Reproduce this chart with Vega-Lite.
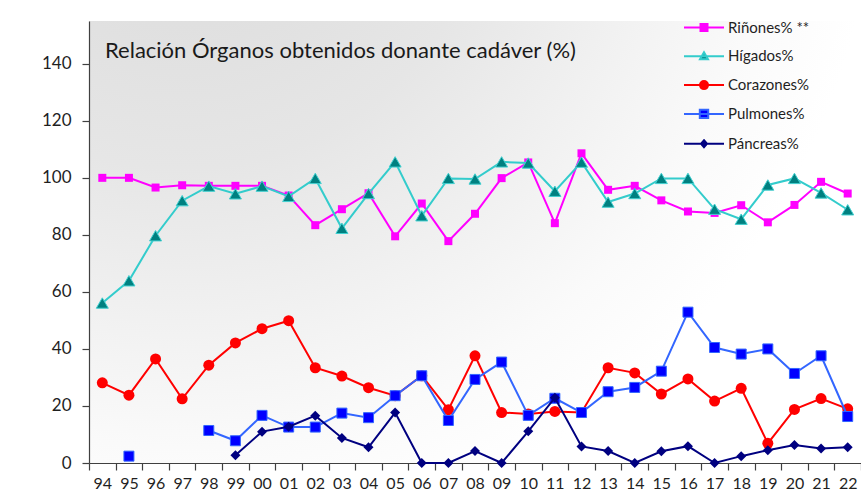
{
  "$schema": "https://vega.github.io/schema/vega-lite/v6.json",
  "width": 772,
  "height": 442,
  "autosize": {"type": "none"},
  "padding": {"left": 89, "top": 21, "right": 0, "bottom": 33},
  "background": "#ffffff",
  "view": {
    "stroke": null,
    "fill": {
      "gradient": "radial",
      "x1": 0.12, "y1": 0, "r1": 0,
      "x2": 0.12, "y2": 0, "r2": 0.9,
      "stops": [
        {"offset": 0, "color": "#d9d9d9"},
        {"offset": 0.45, "color": "#e6e6e6"},
        {"offset": 0.85, "color": "#fafafa"},
        {"offset": 1, "color": "#ffffff"}
      ]
    }
  },
  "config": {
    "font": "Lato",
    "axis": {"labelColor": "#1f1f1f", "domainColor": "#404040", "tickColor": "#404040", "domainWidth": 1.2, "tickWidth": 1.2, "grid": false, "title": null},
    "legend": {"title": null, "orient": "none", "legendX": 604, "legendY": -4.5, "symbolSize": 400, "symbolStrokeWidth": 2, "symbolOpacity": 1, "labelOffset": 13, "labelFontSize": 15, "labelColor": "#1f1f1f", "rowPadding": 9.8, "labelFont": "Lato", "padding": 0}
  },
  "title": {
    "text": "Relación Órganos obtenidos donante cadáver (%)",
    "anchor": "start", "frame": "group", "orient": "top",
    "offset": 0, "dx": 16, "dy": 63, "baseline": "alphabetic",
    "fontSize": 22, "fontWeight": "normal", "color": "#1a1a1a", "font": "Lato"
  },
  "data": {
    "values": [
      {"anio": "94", "Riñones% **": 100, "Hígados%": 56.1, "Corazones%": 28.1, "Pulmones%": null, "Páncreas%": null},
      {"anio": "95", "Riñones% **": 100, "Hígados%": 63.9, "Corazones%": 23.8, "Pulmones%": 2.4, "Páncreas%": null},
      {"anio": "96", "Riñones% **": 96.6, "Hígados%": 79.7, "Corazones%": 36.5, "Pulmones%": null, "Páncreas%": null},
      {"anio": "97", "Riñones% **": 97.4, "Hígados%": 92.0, "Corazones%": 22.5, "Pulmones%": null, "Páncreas%": null},
      {"anio": "98", "Riñones% **": 97.2, "Hígados%": 97.1, "Corazones%": 34.3, "Pulmones%": 11.4, "Páncreas%": null},
      {"anio": "99", "Riñones% **": 97.2, "Hígados%": 94.4, "Corazones%": 42.1, "Pulmones%": 7.8, "Páncreas%": 2.7},
      {"anio": "00", "Riñones% **": 97.2, "Hígados%": 97.1, "Corazones%": 47.1, "Pulmones%": 16.7, "Páncreas%": 11.0},
      {"anio": "01", "Riñones% **": 93.8, "Hígados%": 93.5, "Corazones%": 49.9, "Pulmones%": 12.6, "Páncreas%": 12.7},
      {"anio": "02", "Riñones% **": 83.4, "Hígados%": 99.8, "Corazones%": 33.4, "Pulmones%": 12.6, "Páncreas%": 16.6},
      {"anio": "03", "Riñones% **": 89.0, "Hígados%": 82.3, "Corazones%": 30.5, "Pulmones%": 17.5, "Páncreas%": 8.8},
      {"anio": "04", "Riñones% **": 94.6, "Hígados%": 94.5, "Corazones%": 26.4, "Pulmones%": 15.9, "Páncreas%": 5.5},
      {"anio": "05", "Riñones% **": 79.5, "Hígados%": 105.6, "Corazones%": 23.6, "Pulmones%": 23.6, "Páncreas%": 17.7},
      {"anio": "06", "Riñones% **": 91.0, "Hígados%": 86.7, "Corazones%": 30.6, "Pulmones%": 30.6, "Páncreas%": 0},
      {"anio": "07", "Riñones% **": 77.8, "Hígados%": 99.8, "Corazones%": 18.7, "Pulmones%": 14.9, "Páncreas%": 0},
      {"anio": "08", "Riñones% **": 87.4, "Hígados%": 99.6, "Corazones%": 37.6, "Pulmones%": 29.3, "Páncreas%": 4.2},
      {"anio": "09", "Riñones% **": 99.9, "Hígados%": 105.6, "Corazones%": 17.7, "Pulmones%": 35.4, "Páncreas%": 0},
      {"anio": "10", "Riñones% **": 105.4, "Hígados%": 105.2, "Corazones%": 17.2, "Pulmones%": 16.7, "Páncreas%": 11.1},
      {"anio": "11", "Riñones% **": 84.1, "Hígados%": 95.3, "Corazones%": 18.1, "Pulmones%": 22.7, "Páncreas%": 22.9},
      {"anio": "12", "Riñones% **": 108.6, "Hígados%": 105.5, "Corazones%": 17.7, "Pulmones%": 17.7, "Páncreas%": 5.8},
      {"anio": "13", "Riñones% **": 95.8, "Hígados%": 91.5, "Corazones%": 33.4, "Pulmones%": 25.0, "Páncreas%": 4.2},
      {"anio": "14", "Riñones% **": 97.2, "Hígados%": 94.5, "Corazones%": 31.6, "Pulmones%": 26.5, "Páncreas%": 0},
      {"anio": "15", "Riñones% **": 92.1, "Hígados%": 99.8, "Corazones%": 24.2, "Pulmones%": 32.2, "Páncreas%": 4.1},
      {"anio": "16", "Riñones% **": 88.2, "Hígados%": 99.8, "Corazones%": 29.5, "Pulmones%": 52.9, "Páncreas%": 5.9},
      {"anio": "17", "Riñones% **": 87.7, "Hígados%": 89.0, "Corazones%": 21.7, "Pulmones%": 40.5, "Páncreas%": 0},
      {"anio": "18", "Riñones% **": 90.4, "Hígados%": 85.5, "Corazones%": 26.2, "Pulmones%": 38.2, "Páncreas%": 2.4},
      {"anio": "19", "Riñones% **": 84.4, "Hígados%": 97.5, "Corazones%": 6.9, "Pulmones%": 40.0, "Páncreas%": 4.5},
      {"anio": "20", "Riñones% **": 90.5, "Hígados%": 99.8, "Corazones%": 18.8, "Pulmones%": 31.4, "Páncreas%": 6.3},
      {"anio": "21", "Riñones% **": 98.6, "Hígados%": 94.7, "Corazones%": 22.6, "Pulmones%": 37.6, "Páncreas%": 5.1},
      {"anio": "22", "Riñones% **": 94.5, "Hígados%": 88.8, "Corazones%": 19.0, "Pulmones%": 16.3, "Páncreas%": 5.5}
    ]
  },
  "transform": [
    {"fold": ["Riñones% **", "Hígados%", "Corazones%", "Pulmones%", "Páncreas%"], "as": ["serie", "valor"]}
  ],
  "encoding": {
    "x": {
      "field": "anio", "type": "ordinal",
      "scale": {"type": "band", "paddingInner": 0, "paddingOuter": 0,
        "domain": ["94","95","96","97","98","99","00","01","02","03","04","05","06","07","08","09","10","11","12","13","14","15","16","17","18","19","20","21","22"]},
      "axis": {"tickBand": "extent", "tickSize": 7, "labelPadding": 5, "labelFontSize": 16, "labelAngle": 0}
    },
    "y": {
      "field": "valor", "type": "quantitative",
      "scale": {"domain": [0, 155], "nice": false},
      "axis": {"values": [0, 20, 40, 60, 80, 100, 120, 140], "tickSize": 7, "labelPadding": 11, "labelFontSize": 17}
    }
  },
  "layer": [
    {
      "transform": [{"filter": {"field": "serie", "equal": "Riñones% **"}}],
      "layer": [
        {"mark": {"type": "line", "stroke": "#ff00ff", "strokeWidth": 2, "invalid": "break-paths-filter-domains"}},
        {"mark": {"type": "point", "shape": "square", "filled": true, "size": 64, "fill": "#ff00ff", "strokeWidth": 0, "opacity": 1}}
      ]
    },
    {
      "transform": [{"filter": {"field": "serie", "equal": "Hígados%"}}],
      "layer": [
        {"mark": {"type": "line", "stroke": "#33cccc", "strokeWidth": 2, "invalid": "break-paths-filter-domains"}},
        {"mark": {"type": "point", "shape": "triangle-up", "filled": true, "size": 144, "fill": "#008080", "stroke": "#40d0d0", "strokeWidth": 1, "opacity": 1}}
      ]
    },
    {
      "transform": [{"filter": {"field": "serie", "equal": "Corazones%"}}],
      "layer": [
        {"mark": {"type": "line", "stroke": "#ff0000", "strokeWidth": 2, "invalid": "break-paths-filter-domains"}},
        {"mark": {"type": "point", "shape": "circle", "filled": true, "size": 121, "fill": "#ff0000", "strokeWidth": 0, "opacity": 1}}
      ]
    },
    {
      "transform": [{"filter": {"field": "serie", "equal": "Pulmones%"}}],
      "layer": [
        {"mark": {"type": "line", "stroke": "#3366ff", "strokeWidth": 2, "invalid": "break-paths-filter-domains"}},
        {"mark": {"type": "point", "shape": "square", "filled": true, "size": 100, "fill": "#0000ff", "stroke": "#3366ff", "strokeWidth": 1, "opacity": 1}}
      ]
    },
    {
      "transform": [{"filter": {"field": "serie", "equal": "Páncreas%"}}],
      "layer": [
        {"mark": {"type": "line", "stroke": "#000080", "strokeWidth": 2, "invalid": "break-paths-filter-domains"}},
        {"mark": {"type": "point", "shape": "diamond", "filled": true, "size": 100, "fill": "#000080", "strokeWidth": 0, "opacity": 1}}
      ]
    },
    {
      "transform": [{"filter": {"field": "serie", "equal": "ninguna"}}],
      "mark": {"type": "point", "filled": true, "opacity": 1},
      "encoding": {
        "stroke": {"field": "serie", "type": "nominal",
          "scale": {"domain": ["Riñones% **", "Hígados%", "Corazones%", "Pulmones%", "Páncreas%"],
                    "range": ["#ff00ff", "#33cccc", "#ff0000", "#3366ff", "#000080"]}},
        "fill": {"field": "serie", "type": "nominal",
          "scale": {"domain": ["Riñones% **", "Hígados%", "Corazones%", "Pulmones%", "Páncreas%"],
                    "range": ["#ff00ff", "#008080", "#ff0000", "#0000ff", "#000080"]}},
        "shape": {"field": "serie", "type": "nominal",
          "scale": {"domain": ["Riñones% **", "Hígados%", "Corazones%", "Pulmones%", "Páncreas%"],
                    "range": [
                      "M-2,0H2M-0.35,-0.35H0.35V0.35H-0.35Z",
                      "M-2,0H2M0,-0.4L0.4,0.3L-0.4,0.3Z",
                      "M-2,0H2M0.4,0A0.4,0.4,0,1,1,-0.4,0A0.4,0.4,0,1,1,0.4,0Z",
                      "M-2,0H2M-0.42,-0.42H0.42V0.42H-0.42Z",
                      "M-2,0H2M0,-0.35L0.3,0L0,0.35L-0.3,0Z"
                    ]}}
      }
    }
  ]
}
